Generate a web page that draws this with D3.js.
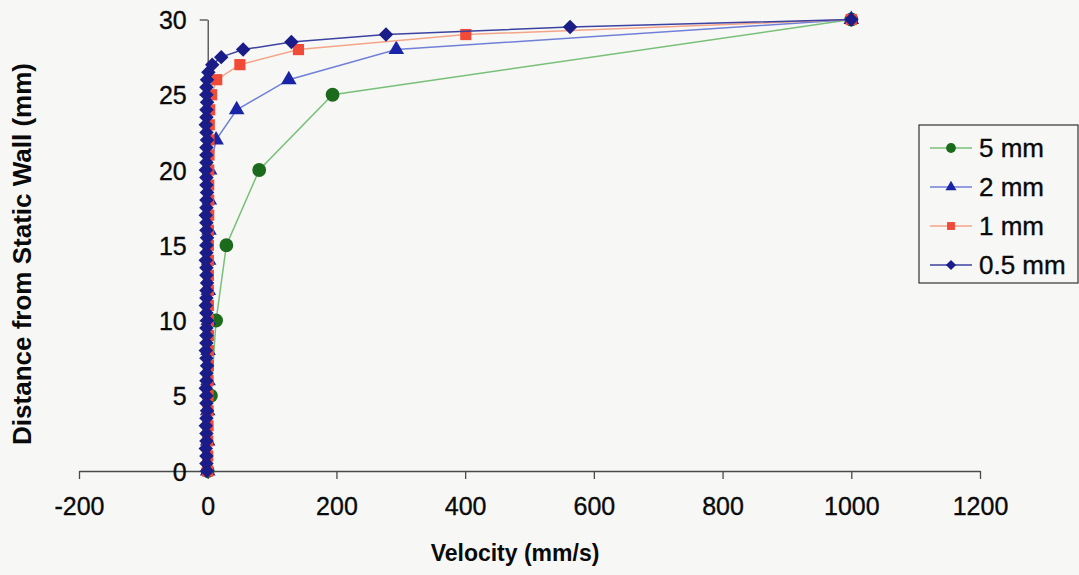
<!DOCTYPE html>
<html>
<head>
<meta charset="utf-8">
<script src="https://cdn.jsdelivr.net/npm/d3@7"></script>
<style>
  body { margin: 0; background: #f7f8f6; }
  svg { display: block; font-family: "Liberation Sans", Arial, sans-serif; }
</style>
</head>
<body>
<div id="chart"></div>
<script>
// data
const seriesNames = ["5 mm", "2 mm", "1 mm", "0.5 mm"];

const y5 = [0, 5, 10, 15, 20, 25, 30];
const v5 = [0, 5, 13, 29, 80, 194, 1000];

const y2 = [0, 2, 4, 6, 8, 10, 12, 14, 16, 18, 20, 22, 24, 26, 28, 30];
const v2 = [0, 0, 0, 0.5, 0.5, 1, 1, 1.5, 2, 2.5, 3, 13, 45, 126, 293, 1000];

const y1 = [0, 1, 2, 3, 4, 5, 6, 7, 8, 9, 10, 11, 12, 13, 14, 15, 16, 17, 18, 19, 20,
  21, 22, 23, 24, 25, 26, 27, 28, 29, 30];
const v1 = [0, 0, 0, 0.5, 0.5, 0.5, 0.5, 1, 1, 1, 1, 1, 1, 1, 1, 1, 1, 1.5, 1.5, 1.5, 1.5,
  2, 2, 2.5, 3, 6, 14, 50, 141, 401, 1000];

const y05 = [0, 0.5, 1, 1.5, 2, 2.5, 3, 3.5, 4, 4.5, 5, 5.5, 6, 6.5, 7, 7.5, 8, 8.5, 9, 9.5,
  10, 10.5, 11, 11.5, 12, 12.5, 13, 13.5, 14, 14.5, 15, 15.5, 16, 16.5, 17, 17.5, 18, 18.5,
  19, 19.5, 20, 20.5, 21, 21.5, 22, 22.5, 23, 23.5, 24, 24.5, 25, 25.5, 26, 26.5, 27, 27.5,
  28, 28.5, 29, 29.5, 30];
const v05 = [-1, -2, -2, -3, -2, -2, -3, -2, -1, -2, -2, -3, -2, -2, -1, -2, -3, -2, -2, -2,
  -1, -2, -3, -2, -2, -1, -2, -2, -3, -2, -2, -1, -2, -2, -3, -2, -2, -1, -2, -2, -3, -2, -2,
  -2, -1, -2, -3, -2, -2, -1, -2, -2, -1, 1, 7, 21, 55, 130, 277, 563, 1000];

const xTicks = [-200, 0, 200, 400, 600, 800, 1000, 1200];
const yTicks = [0, 5, 10, 15, 20, 25, 30];

const width = 1079, height = 575;

const svg = d3.select("#chart").append("svg")
  .attr("width", width)
  .attr("height", height);

svg.append("rect").attr("width", width).attr("height", height).attr("fill", "#f7f8f6");

const x = d3.scaleLinear().domain([-200, 1200]).range([79, 980]);
const y = d3.scaleLinear().domain([0, 30]).range([471, 19.5]);

// x axis
const gx = svg.append("g")
  .attr("transform", `translate(0, ${y(0)})`)
  .call(d3.axisBottom(x).tickValues(xTicks).tickSize(8).tickPadding(13).tickSizeOuter(0)
    .tickFormat(d => String(d)));

// y axis crosses at x = 0
const gy = svg.append("g")
  .attr("transform", `translate(${x(0)}, 0)`)
  .call(d3.axisLeft(y).tickValues(yTicks).tickSize(8).tickPadding(13).tickSizeOuter(0)
    .tickFormat(d => String(d)));

[gx, gy].forEach(g => {
  g.attr("font-size", null).attr("font-family", null);
  g.select(".domain").attr("stroke", "#4a4a4a").attr("stroke-width", 1.3);
  g.selectAll(".tick line").attr("stroke", "#4a4a4a").attr("stroke-width", 1.3);
  g.selectAll(".tick text").attr("fill", "#0a0a0a")
    .attr("stroke", "#0a0a0a").attr("stroke-width", 0.35)
    .style("font-size", "25px");
});
gx.selectAll(".tick text").attr("dy", "0.9em");
gy.selectAll(".tick text").attr("dy", "0.36em");

// axis titles
svg.append("text")
  .attr("x", 515).attr("y", 561)
  .attr("text-anchor", "middle")
  .style("font-size", "23px").style("font-weight", "bold").attr("fill", "#0a0a0a")
  .text("Velocity (mm/s)");

svg.append("text")
  .attr("transform", "translate(31, 254) rotate(-90)")
  .attr("text-anchor", "middle")
  .style("font-size", "26px").style("font-weight", "bold").attr("fill", "#0a0a0a")
  .text("Distance from Static Wall (mm)");

const series = [
  { name: seriesNames[0], ys: y5, vs: v5, line: "#78c078", mark: "#1c6a1c", type: d3.symbolCircle, size: 150, rot: 0 },
  { name: seriesNames[1], ys: y2, vs: v2, line: "#7080d8", mark: "#1a24a6", type: d3.symbolTriangle, size: 105, rot: 0 },
  { name: seriesNames[2], ys: y1, vs: v1, line: "#f4a488", mark: "#f24a38", type: d3.symbolSquare, size: 125, rot: 0 },
  { name: seriesNames[3], ys: y05, vs: v05, line: "#3c42a0", mark: "#1a1c88", type: d3.symbolSquare, size: 105, rot: 45 }
];

const line = d3.line().x(d => x(d[0])).y(d => y(d[1]));

series.forEach(s => {
  const pts = s.vs.map((v, i) => [v, s.ys[i]]);
  const g = svg.append("g");
  g.append("path")
    .datum(pts)
    .attr("d", line)
    .attr("fill", "none")
    .attr("stroke", s.line)
    .attr("stroke-width", 1.5);
  g.selectAll("path.m")
    .data(pts)
    .join("path")
    .attr("class", "m")
    .attr("d", d3.symbol().type(s.type).size(s.size))
    .attr("transform", d => `translate(${x(d[0])}, ${y(d[1])}) rotate(${s.rot})`)
    .attr("fill", s.mark);
});

// legend
const legend = svg.append("g");
legend.append("rect")
  .attr("x", 919).attr("y", 125).attr("width", 159).attr("height", 158)
  .attr("fill", "none").attr("stroke", "#333").attr("stroke-width", 1.2);

const legY = d3.scalePoint().domain(seriesNames).range([148, 265]);
series.forEach(s => {
  const cy = legY(s.name);
  legend.append("line")
    .attr("x1", 930).attr("x2", 972).attr("y1", cy).attr("y2", cy)
    .attr("stroke", s.line).attr("stroke-width", 1.5);
  legend.append("path")
    .attr("d", d3.symbol().type(s.type).size(s.size * 0.5))
    .attr("transform", `translate(951, ${cy}) rotate(${s.rot})`)
    .attr("fill", s.mark);
  legend.append("text")
    .attr("x", 979).attr("y", cy).attr("dy", "0.36em")
    .style("font-size", "26px").attr("fill", "#0a0a0a")
    .attr("stroke", "#0a0a0a").attr("stroke-width", 0.35)
    .text(s.name);
});
</script>
</body>
</html>
